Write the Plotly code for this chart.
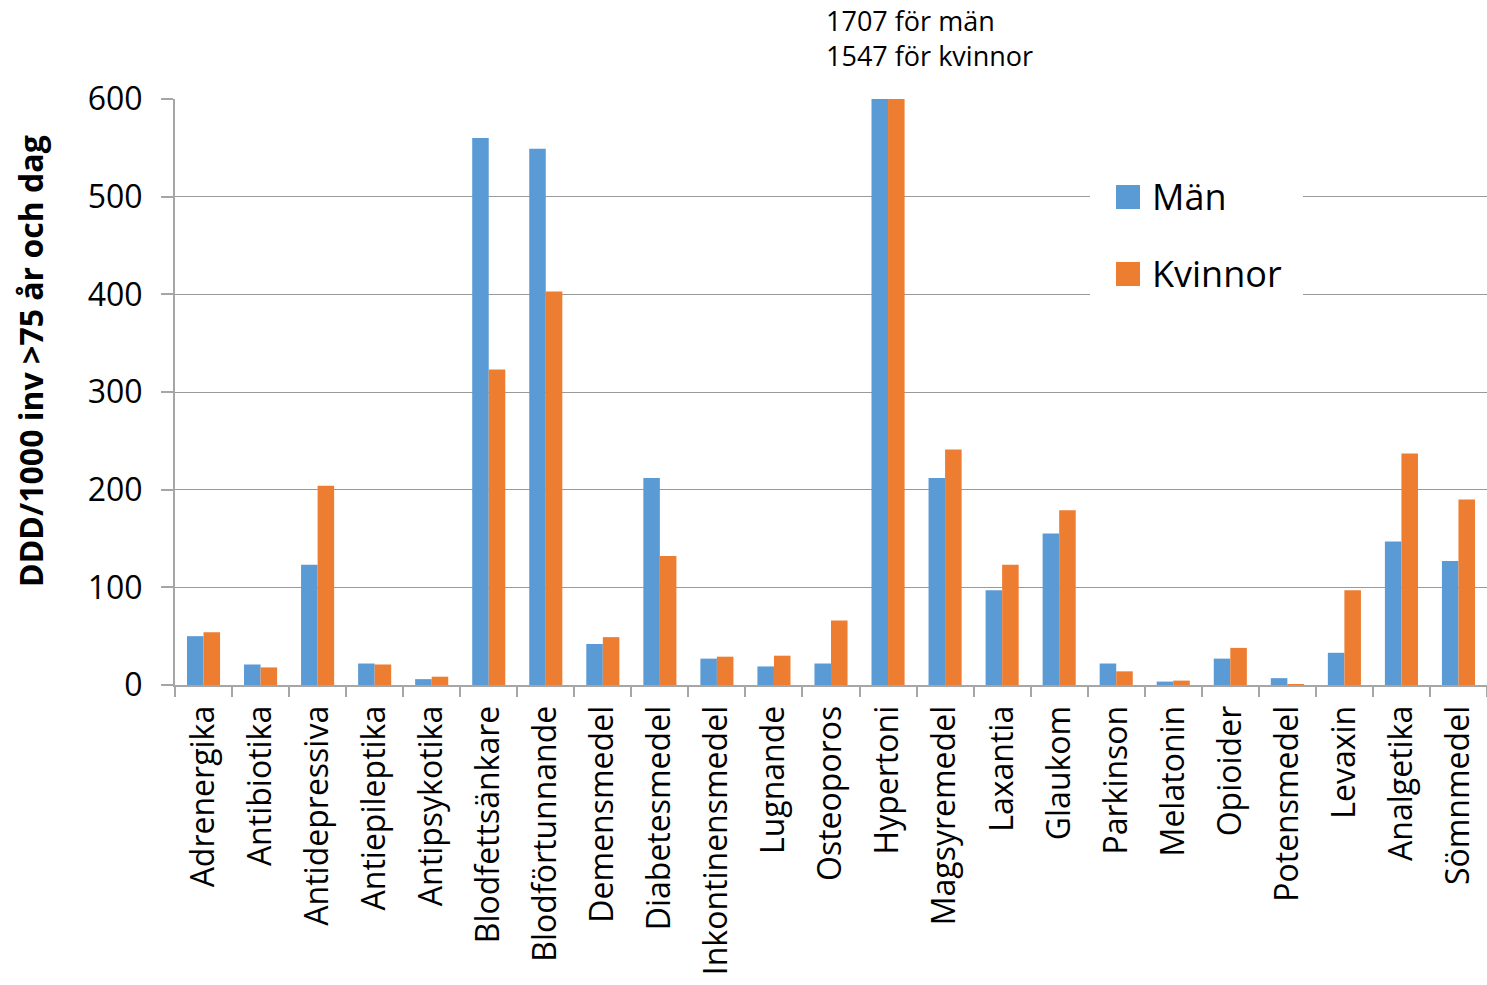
import plotly.graph_objects as go

# Läkemedelsgrupper och förbrukning (DDD/1000 inv >75 år och dag)
kategorier = [
    "Adrenergika", "Antibiotika", "Antidepressiva", "Antiepileptika", "Antipsykotika",
    "Blodfettsänkare", "Blodförtunnande", "Demensmedel", "Diabetesmedel",
    "Inkontinensmedel", "Lugnande", "Osteoporos", "Hypertoni", "Magsyremedel",
    "Laxantia", "Glaukom", "Parkinson", "Melatonin", "Opioider", "Potensmedel",
    "Levaxin", "Analgetika", "Sömnmedel",
]
man = [50, 21, 123, 22, 6, 560, 549, 42, 212, 27, 19, 22, 1707, 212,
       97, 155, 22, 3.5, 27, 7, 33, 147, 127]
kvinnor = [54, 18, 204, 21, 8.5, 323, 403, 49, 132, 29, 30, 66, 1547, 241,
           123, 179, 14, 4.5, 38, 0.5, 97, 237, 190]
y_ticks = [0, 100, 200, 300, 400, 500, 600]

BLA = "#5B9BD5"
ORANGE = "#ED7D31"
GRID = "#9a9a9a"
AXIS = "#a6a6a6"
FONT = "Open Sans"

W, H = 1487, 985
M_L, M_R, M_T, M_B = 175, 0, 99, 300
PW = W - M_L - M_R
PH = H - M_T - M_B


def px(x):
    return (x - M_L) / PW


def py(y):
    return (H - M_B - y) / PH


fig = go.Figure()
fig.add_trace(go.Bar(x=kategorier, y=man, name="Män", marker_color=BLA,
                     marker_line_width=0, showlegend=False))
fig.add_trace(go.Bar(x=kategorier, y=kvinnor, name="Kvinnor", marker_color=ORANGE,
                     marker_line_width=0, showlegend=False))

# Värden för Hypertoni som ligger utanför skalan
i_hyp = kategorier.index("Hypertoni")
fig.add_annotation(xref="paper", yref="paper", x=px(824), y=py(0),
                   xanchor="left", yanchor="top", showarrow=False,
                   text=f"{man[i_hyp]} för män", font=dict(size=27, color="black", family=FONT))
fig.add_annotation(xref="paper", yref="paper", x=px(824), y=py(56),
                   xanchor="left", yanchor="middle", showarrow=False,
                   text=f"{kvinnor[i_hyp]} för kvinnor", font=dict(size=27, color="black", family=FONT))

# Y-axelns titel
fig.add_annotation(xref="paper", yref="paper", x=px(30), y=py(361),
                   xanchor="center", yanchor="middle", showarrow=False, textangle=-90,
                   text="<b>DDD/1000 inv >75 år och dag</b>",
                   font=dict(size=32, color="black", family=FONT))

# Förklaring
shapes = [
    dict(type="rect", xref="paper", yref="paper", x0=px(1090), x1=px(1303),
         y0=py(160), y1=py(310), fillcolor="white", line_width=0, layer="above"),
    dict(type="rect", xref="paper", yref="paper", x0=px(1116), x1=px(1140),
         y0=py(185), y1=py(209), fillcolor=BLA, line_width=0, layer="above"),
    dict(type="rect", xref="paper", yref="paper", x0=px(1116), x1=px(1140),
         y0=py(262), y1=py(286), fillcolor=ORANGE, line_width=0, layer="above"),
]
for namn, yc in (("Män", 196), ("Kvinnor", 273)):
    fig.add_annotation(xref="paper", yref="paper", x=px(1150), y=py(yc),
                       xanchor="left", yanchor="middle", showarrow=False, text=namn,
                       font=dict(size=36, color="black", family=FONT))

fig.update_layout(
    width=W, height=H,
    margin=dict(l=M_L, r=M_R, t=M_T, b=M_B, pad=0),
    paper_bgcolor="white", plot_bgcolor="white",
    barmode="group", bargap=0.42, bargroupgap=0,
    font=dict(family=FONT, color="black"),
    shapes=shapes,
    xaxis=dict(
        type="category", tickangle=-90, tickson="boundaries",
        ticks="outside", ticklen=10, tickcolor=AXIS, tickwidth=2,
        showline=True, linecolor=AXIS, linewidth=2,
        tickfont=dict(size=32, family=FONT), ticklabelstandoff=6,
        showgrid=False, range=[-0.5, len(kategorier) - 0.5],
    ),
    yaxis=dict(
        range=[0, 600], tickvals=y_ticks,
        ticks="outside", ticklen=12, tickcolor=AXIS, tickwidth=1.5,
        showline=True, linecolor=AXIS, linewidth=2,
        showgrid=True, gridcolor=GRID, gridwidth=1.3, zeroline=False,
        tickfont=dict(size=32, family=FONT), ticklabelstandoff=12,
    ),
)

fig.write_html("out.html")
